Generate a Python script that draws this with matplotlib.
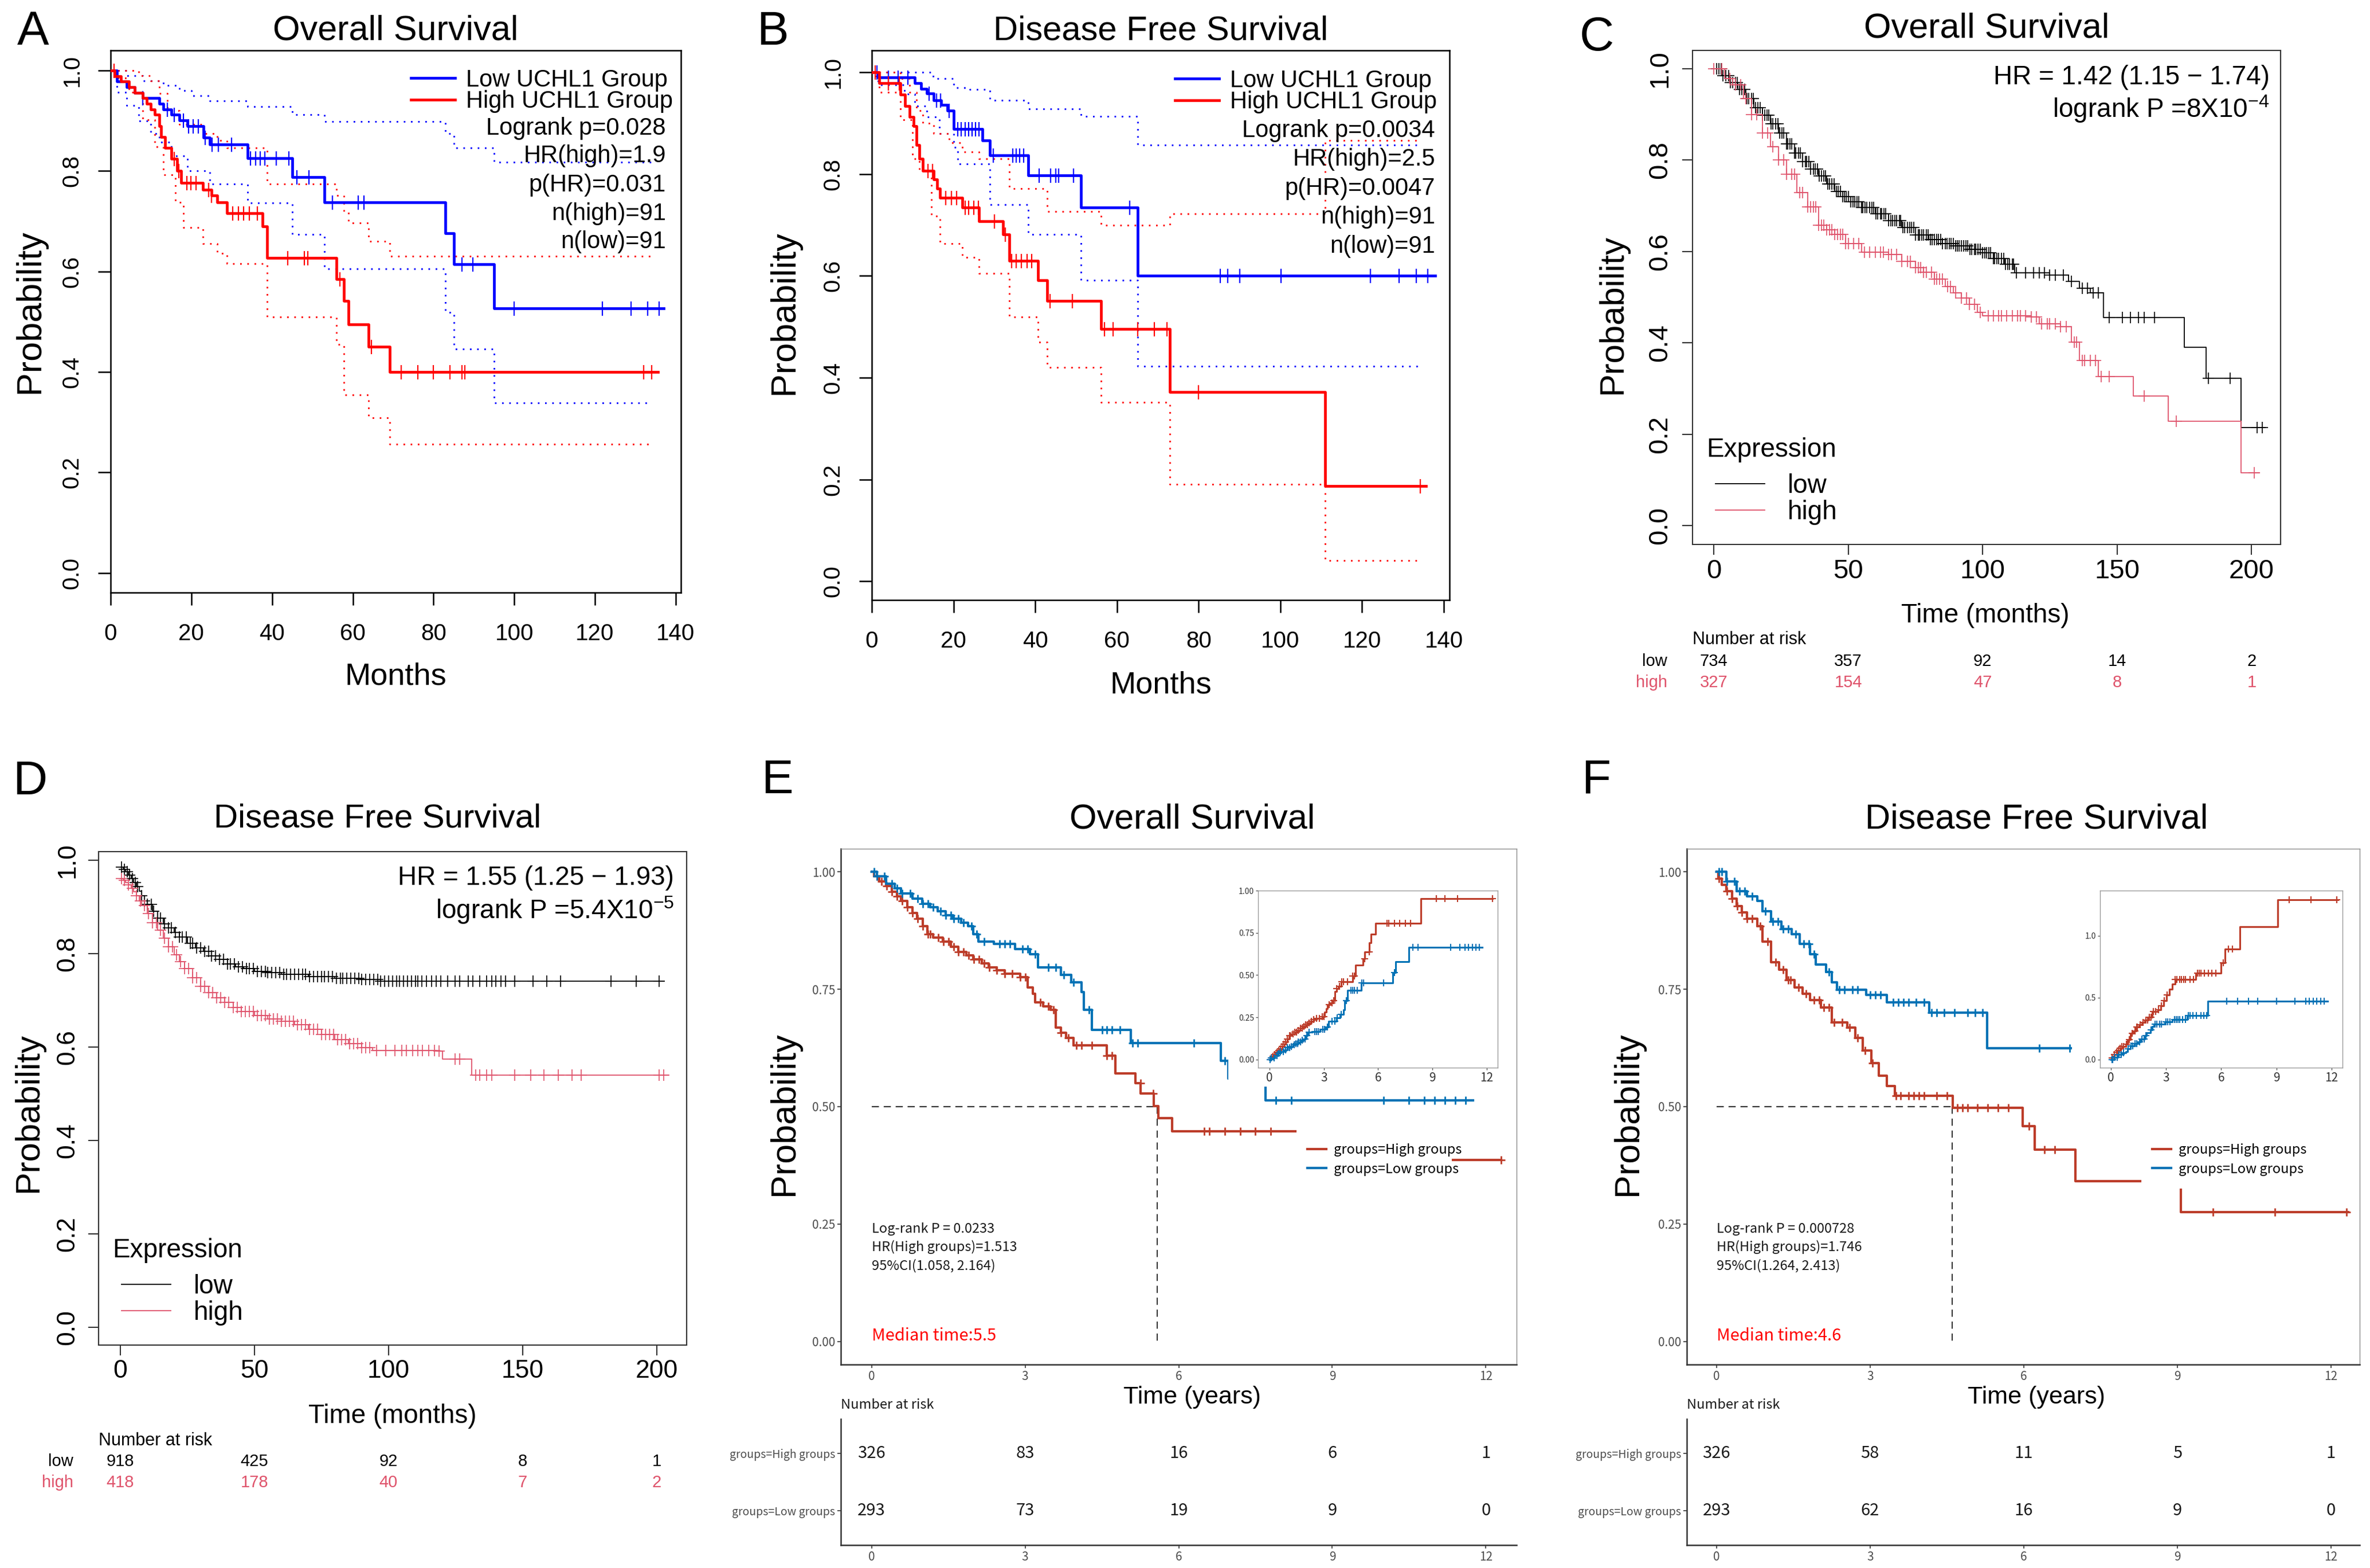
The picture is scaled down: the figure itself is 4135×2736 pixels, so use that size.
import numpy as np
import matplotlib
matplotlib.use('Agg')
import matplotlib.pyplot as plt
from matplotlib.patches import Rectangle
from matplotlib.transforms import blended_transform_factory

plt.rcParams['font.family'] = ['Liberation Sans', 'DejaVu Sans']
plt.rcParams['mathtext.fontset'] = 'custom'
plt.rcParams['mathtext.rm'] = 'Liberation Sans'
CJK = ['Noto Sans CJK SC', 'DejaVu Sans']

# ---------------- data: panel A (GEPIA, overall survival) ----------------
a_low_t = [0, 1.5, 4, 6, 8, 12, 13, 15, 17, 19, 23, 24.5, 34, 45, 53, 83, 85, 95]
a_low_s = [1.0, 0.978, 0.967, 0.956, 0.945, 0.934, 0.923, 0.912, 0.901, 0.890, 0.867, 0.853,
           0.826, 0.788, 0.738, 0.676, 0.614, 0.527]
a_low_end = 137
a_low_cens = [8.0, 14, 15.7, 18.1, 19.3, 20.5, 21.7, 23.4, 25.2, 26.7, 29.9, 34.7, 35.9, 37, 38.2,
              41, 44.1, 46.2, 49.2, 55, 61.3, 62.7, 87.1, 89.7, 100, 121.9, 129, 133.1, 135.9]
a_low_up_t = [0, 4, 8, 13, 17, 20, 24.5, 34, 45, 53, 83, 85, 95]
a_low_up_s = [1.0, 0.99, 0.98, 0.97, 0.96, 0.95, 0.94, 0.928, 0.912, 0.898, 0.875, 0.846, 0.818]
a_low_lo_t = [0, 1.5, 4, 7, 10, 12, 15, 19, 24.5, 34, 45, 53, 83, 85, 95]
a_low_lo_s = [1.0, 0.957, 0.93, 0.90, 0.875, 0.857, 0.83, 0.80, 0.774, 0.737, 0.674, 0.606,
              0.519, 0.446, 0.339]
a_high_t = [0, 1, 2.5, 4.5, 6, 8, 9, 10, 11, 12, 12.5, 13.5, 15, 16.5, 17.5, 22.8, 25, 26.4, 28.8,
            37.6, 38.8, 56, 57.8, 59, 63.9, 69.2]
a_high_s = [1.0, 0.989, 0.978, 0.967, 0.956, 0.945, 0.934, 0.923, 0.912, 0.890, 0.868, 0.846, 0.824,
            0.801, 0.776, 0.763, 0.751, 0.738, 0.716, 0.690, 0.627, 0.585, 0.541, 0.495, 0.450, 0.400]
a_high_end = 135.6
a_high_cens = [0.9, 15.7, 16.9, 18.9, 19.9, 21.1, 24.3, 25, 30.3, 31.7, 32.9, 34.3, 36.4, 43.9, 48,
               48.9, 56.8, 64.6, 72, 76.1, 80, 84, 87.1, 87.7, 132.1, 134.1]
a_high_up_t = [0, 7, 10, 12, 14, 17, 22.8, 26.4, 28.8, 38.8, 56, 57.8, 59, 63.9, 69.2]
a_high_up_s = [1.0, 0.99, 0.98, 0.955, 0.92, 0.893, 0.875, 0.861, 0.846, 0.774, 0.751, 0.72, 0.697,
               0.66, 0.63]
a_high_lo_t = [0, 1, 4.5, 8, 11, 13, 16, 18, 22.8, 26.4, 28.8, 38.8, 56, 57.8, 63.9, 69.2]
a_high_lo_s = [1.0, 0.985, 0.957, 0.902, 0.848, 0.793, 0.738, 0.688, 0.656, 0.636, 0.616, 0.51,
               0.455, 0.354, 0.309, 0.256]
a_ci_end = 134
a_stats = ['Logrank p=0.028', 'HR(high)=1.9', 'p(HR)=0.031', 'n(high)=91', 'n(low)=91']

# ---------------- data: panel B (GEPIA, disease free survival) ----------------
b_low_t = [0, 1.5, 10.5, 12, 13.4, 15.2, 17, 18.5, 20.1, 27.1, 28.9, 38.3, 51.2, 65.1]
b_low_s = [1.0, 0.99, 0.979, 0.967, 0.958, 0.945, 0.936, 0.925, 0.889, 0.866, 0.837, 0.797,
           0.734, 0.600]
b_low_end = 137.9
b_low_cens = [1.2, 4.1, 6.4, 8.8, 14, 15.8, 16.9, 19, 21, 21.9, 22.8, 23.7, 24.5, 25.4, 26.3, 29.8,
              34.5, 35.4, 36.2, 37.2, 40.9, 43.8, 45, 45.8, 49.4, 63.1, 85.3, 87.1, 90, 100.2,
              122.1, 129.1, 133.2, 136.1]
b_low_up_t = [0, 15, 20.1, 24, 28.9, 38.3, 51.2, 65.1]
b_low_up_s = [1.0, 0.988, 0.97, 0.966, 0.945, 0.928, 0.914, 0.857]
b_low_lo_t = [0, 1.5, 8, 10.5, 13.4, 16.5, 20.1, 21, 28.9, 38.3, 51.2, 65.1]
b_low_lo_s = [1.0, 0.975, 0.957, 0.934, 0.912, 0.88, 0.853, 0.82, 0.74, 0.681, 0.591, 0.422]
b_high_t = [0, 1.8, 7, 8.2, 9.3, 10.2, 10.9, 11.7, 12.5, 15.2, 16, 16.7, 22.2, 26.3, 32.1, 33.7,
            40.7, 42.9, 56.1, 73, 111]
b_high_s = [1.0, 0.979, 0.956, 0.934, 0.912, 0.894, 0.857, 0.83, 0.806, 0.79, 0.772, 0.754, 0.734,
            0.707, 0.681, 0.63, 0.591, 0.551, 0.496, 0.372, 0.187]
b_high_end = 135.6
b_high_cens = [0.8, 4.1, 6.7, 13.8, 14.8, 18.1, 19.5, 20.7, 22.8, 23.7, 24.9, 26.1, 30, 32.7, 34.2,
               35.4, 36.6, 38, 39.1, 43.6, 49.1, 56.9, 59, 65.1, 69.2, 72.2, 80, 134.2]
b_high_up_t = [0, 7, 9.3, 10.9, 12.5, 15.2, 19, 22.2, 26.3, 33.7, 42.9, 56.1, 73, 111]
b_high_up_s = [1.0, 0.988, 0.961, 0.925, 0.9, 0.88, 0.862, 0.844, 0.83, 0.772, 0.726, 0.70,
               0.722, 0.866]
b_high_lo_t = [0, 1, 1.8, 7, 10, 11.7, 14.6, 16.7, 22.2, 26.3, 33.7, 40.7, 42.9, 56.1, 73, 111]
b_high_lo_s = [1.0, 0.99, 0.961, 0.907, 0.83, 0.808, 0.717, 0.663, 0.636, 0.605, 0.519, 0.47,
               0.42, 0.352, 0.191, 0.041]
b_ci_end = 134
b_stats = ['Logrank p=0.0034', 'HR(high)=2.5', 'p(HR)=0.0047', 'n(high)=91', 'n(low)=91']

# ---------------- data: panel C (KM plotter, overall survival) ----------------
c_low_t = [0, 3, 6, 9, 12, 15, 18, 21, 24, 27, 30, 33, 36, 39, 42, 45, 48, 51, 55, 60, 65, 70, 75,
           80, 85, 90, 95, 100, 104, 108, 112, 125, 132, 136, 140, 145, 175, 183, 196]
c_low_s = [1.0, 0.985, 0.97, 0.955, 0.935, 0.915, 0.898, 0.879, 0.86, 0.835, 0.815, 0.797, 0.78,
           0.765, 0.748, 0.732, 0.72, 0.709, 0.697, 0.682, 0.668, 0.652, 0.636, 0.626, 0.617, 0.612,
           0.605, 0.597, 0.585, 0.572, 0.553, 0.548, 0.535, 0.52, 0.51, 0.455, 0.39, 0.323, 0.215]
c_low_end = 205
c_low_cens = [1, 2, 2.8, 3.5, 4.5, 5.5, 6.2, 7, 8, 8.8, 9.5, 10.5, 11.5, 12.3, 13, 14, 14.8, 15.5,
              16.5, 17.3, 18, 19, 19.8, 20.5, 21.3, 22, 23, 23.8, 24.5, 25.3, 26, 27, 27.5, 28.4,
              29, 30, 30.5, 31.5, 32.2, 33, 34, 34.5, 35.3, 36, 37, 37.8, 38.5, 39.3, 40, 41, 41.5,
              42.3, 43, 44, 44.8, 45.5, 46.3, 47, 48, 48.5, 49.3, 50, 51, 51.7, 52.5, 53.2, 54, 55,
              55.5, 56.3, 57, 58, 58.8, 59.5, 60.3, 61, 62, 62.5, 63.3, 64, 65, 65.8, 66.5, 67.3, 68,
              69, 69.5, 70.3, 71, 72, 72.8, 73.5, 74.3, 75, 76, 76.5, 77.3, 78, 79, 79.8, 80.5,
              81.3, 82, 83, 83.5, 84.3, 85, 86, 86.8, 87.5, 88.3, 89, 90, 90.5, 91.3, 92, 93, 93.8,
              94.5, 95.3, 96, 97, 97.5, 98.3, 99, 100, 100.8, 101.5, 102.3, 103, 104, 104.5, 105.3,
              106, 107, 107.8, 108.5, 109.3, 110, 111, 111.5, 112.5, 116, 119, 121, 123, 125, 127,
              130, 133, 137, 139, 141, 143, 147, 152, 155, 158, 160, 164, 184, 192, 202, 204]
c_high_t = [0, 4, 7, 11, 14, 18, 21, 24, 27, 31, 35, 39, 42, 45, 49, 55, 65, 70, 75, 78, 82, 86, 89,
            92, 95, 98, 100, 118, 121, 129, 133, 136, 143, 156, 169, 196]
c_high_s = [1.0, 0.978, 0.965, 0.935, 0.9, 0.86, 0.829, 0.8, 0.769, 0.729, 0.698, 0.658, 0.648,
            0.638, 0.618, 0.598, 0.593, 0.578, 0.565, 0.555, 0.54, 0.523, 0.51, 0.498, 0.485, 0.467,
            0.459, 0.457, 0.442, 0.435, 0.402, 0.362, 0.327, 0.284, 0.228, 0.116]
c_high_end = 203
c_high_cens = [0, 3, 6, 8, 10, 12, 14, 16, 18, 20, 22, 24, 26, 27, 29, 30, 32, 33, 35, 36, 37, 38,
               39, 40, 41, 42, 43, 44, 45, 46, 47, 48, 49, 50, 52, 54, 56, 58, 60, 62, 63, 65, 66,
               68, 70, 72, 73, 75, 76, 77, 78, 79, 81, 82, 83, 84, 85, 87, 88, 90, 92, 94, 95, 97,
               99, 102, 104, 106, 107, 109, 111, 113, 114, 116, 118, 120, 122, 124, 125, 127, 129,
               131, 134, 135, 137, 138, 140, 142, 144, 147, 160, 172, 201]
c_risk_t = [0, 50, 100, 150, 200]
c_risk_low = [734, 357, 92, 14, 2]
c_risk_high = [327, 154, 47, 8, 1]

# ---------------- data: panel D (KM plotter, disease free survival) ----------------
d_low_t = [0, 1, 2, 3, 4, 5, 6, 7, 8, 9, 10, 12, 14, 16, 18, 20, 22, 25, 28, 31, 34, 37, 40, 43,
           46, 50, 55, 60, 70, 80, 90, 97]
d_low_s = [0.985, 0.98, 0.975, 0.968, 0.96, 0.952, 0.943, 0.933, 0.923, 0.913, 0.905, 0.89, 0.876,
           0.864, 0.855, 0.845, 0.835, 0.822, 0.812, 0.804, 0.795, 0.788, 0.778, 0.772, 0.768, 0.762,
           0.759, 0.755, 0.751, 0.747, 0.744, 0.741]
d_low_end = 202.6
d_low_cens = [0.5, 1.5, 2.5, 3.5, 4.5, 5.5, 6.5, 8, 9, 10, 11.5, 12.5, 14, 15, 16.5, 18, 19, 20.5,
              22, 23, 24.5, 26, 27, 28.5, 30, 31.5, 33, 34, 35.5, 37, 38.5, 40, 41, 42.5, 44, 45.5,
              47, 48, 49.5, 51, 52.5, 54, 55, 56.5, 58, 59.5, 61, 62, 63.5, 65, 66.5, 68, 69, 70.5,
              72, 73.5, 75, 76, 77.5, 79, 80.5, 82, 83, 84.5, 86, 87.5, 89, 90, 91.5, 93, 94.5, 96,
              97, 98.5, 100, 101.5, 103, 104, 105.5, 107, 108.5, 110, 111, 112.5, 114, 116, 117.8,
              119.5, 122, 124.7, 126.4, 129.8, 131.5, 134, 136.6, 138.4, 140, 141.8, 143.5, 147,
              153.8, 158.9, 164, 182.9, 192.3, 200.9]
d_high_t = [0, 1, 2, 3, 4, 5, 6, 7, 8, 10, 12, 14, 16, 18, 20, 22, 24, 27, 30, 33, 36, 39, 42, 45,
            50, 55, 60, 65, 70, 75, 80, 85, 90, 94, 118, 120, 131]
d_high_s = [0.96, 0.957, 0.952, 0.947, 0.94, 0.932, 0.923, 0.913, 0.903, 0.885, 0.866, 0.85, 0.833,
            0.815, 0.797, 0.782, 0.768, 0.748, 0.73, 0.716, 0.705, 0.695, 0.685, 0.676, 0.667, 0.66,
            0.655, 0.648, 0.638, 0.627, 0.616, 0.607, 0.598, 0.593, 0.591, 0.574, 0.54]
d_high_end = 204.3
d_high_cens = [0.5, 1.5, 3, 4.5, 6, 7.5, 9, 10.5, 12, 13.5, 15, 16.5, 18, 19.5, 21, 22.5, 24, 25.5,
               27, 28.5, 30, 31.5, 33, 34.5, 36, 37.5, 39, 40.5, 42, 43.5, 45, 46.5, 48, 49.5, 51,
               52.5, 54, 55.5, 57, 58.5, 60, 61.5, 63, 64.5, 66, 67.5, 69, 70.5, 72, 73.5, 75, 76.5,
               78, 79.5, 81, 82.5, 84, 85.5, 87, 88.5, 90, 91.5, 93, 95.5, 99, 102.4, 105, 106.7,
               109, 111, 112.7, 115, 117, 118.7, 124.7, 126.4, 132.4, 134, 136.6, 138.4, 147, 152.9,
               158, 163.2, 168.3, 171.7, 200.9, 202.6]
d_risk_t = [0, 50, 100, 150, 200]
d_risk_low = [918, 425, 92, 8, 1]
d_risk_high = [418, 178, 40, 7, 2]

# ---------------- data: panel E (overall survival, years) ----------------
e_high_t = [0, 0.05, 0.15, 0.28, 0.4, 0.5, 0.58, 0.7, 0.8, 0.89, 1.0, 1.09, 1.2, 1.39, 1.55, 1.69,
            1.85, 1.99, 2.15, 2.29, 2.45, 2.6, 2.9, 3.05, 3.15, 3.2, 3.35, 3.5, 3.6, 3.7, 3.8, 3.95,
            4.6, 4.76, 5.16, 5.26, 5.51, 5.6, 5.87, 8.35]
e_high_s = [1.0, 0.99, 0.98, 0.97, 0.958, 0.948, 0.938, 0.925, 0.912, 0.9, 0.884, 0.867, 0.86,
            0.851, 0.84, 0.83, 0.822, 0.814, 0.805, 0.797, 0.79, 0.783, 0.776, 0.754, 0.74, 0.722,
            0.714, 0.706, 0.668, 0.657, 0.647, 0.63, 0.609, 0.571, 0.55, 0.528, 0.501, 0.476, 0.447,
            0.386]
e_high_end = 12.3
e_high_cens = [0.1, 0.2, 0.3, 0.4, 0.5, 0.6, 0.7, 0.8, 0.9, 1.0, 1.1, 1.15, 1.3, 1.4, 1.5, 1.6,
               1.7, 1.8, 1.9, 2.0, 2.1, 2.2, 2.3, 2.45, 2.6, 2.75, 2.9, 3.0, 3.3, 3.45, 3.55, 3.7,
               3.85, 4.0, 4.1, 4.3, 4.6, 4.7, 5.25, 5.5, 6.5, 6.6, 6.9, 7.2, 7.5, 7.8, 9.2, 9.7, 10.4,
               12.3]
e_low_t = [0, 0.1, 0.28, 0.45, 0.58, 0.8, 0.99, 1.15, 1.29, 1.45, 1.59, 1.75, 1.89, 1.99, 2.09,
           2.39, 2.8, 3.1, 3.25, 3.7, 3.9, 4.1, 4.15, 4.3, 5.06, 6.82, 6.97, 7.7]
e_low_s = [1.0, 0.99, 0.975, 0.965, 0.954, 0.943, 0.932, 0.924, 0.916, 0.908, 0.9, 0.892, 0.884,
           0.867, 0.851, 0.846, 0.835, 0.824, 0.797, 0.781, 0.765, 0.744, 0.706, 0.663, 0.636, 0.598,
           0.56, 0.514]
e_low_end = 11.75
e_low_cens = [0.05, 0.1, 0.25, 0.4, 0.5, 0.6, 0.75, 0.9, 1.0, 1.1, 1.2, 1.35, 1.45, 1.55, 1.6, 1.7,
              1.8, 1.95, 2.05, 2.2, 2.5, 2.6, 2.7, 2.95, 3.05, 3.2, 3.45, 3.6, 3.75, 3.95, 4.25,
              4.5, 4.6, 4.7, 4.85, 5.1, 5.2, 6.3, 6.9, 7.9, 8.2, 10.0, 10.5, 10.8, 11.0, 11.2, 11.4,
              11.6]
e_median = 5.58
e_stats = ['Log-rank P = 0.0233', 'HR(High groups)=1.513', '95%CI(1.058, 2.164)']
e_median_label = 'Median time:5.5'
e_risk_t = [0, 3, 6, 9, 12]
e_risk_high = [326, 83, 16, 6, 1]
e_risk_low = [293, 73, 19, 9, 0]

# ---------------- data: panel F (disease free survival, years) ----------------
f_high_t = [0, 0.03, 0.1, 0.19, 0.3, 0.39, 0.5, 0.6, 0.8, 0.9, 1.06, 1.22, 1.37, 1.52, 1.68, 1.83,
            2.04, 2.25, 2.55, 2.71, 2.86, 3.02, 3.17, 3.33, 3.48, 4.61, 5.98, 6.21, 7.01, 9.07]
f_high_s = [1.0, 0.986, 0.972, 0.959, 0.943, 0.927, 0.913, 0.9, 0.884, 0.851, 0.808, 0.792, 0.77,
            0.754, 0.74, 0.727, 0.711, 0.679, 0.668, 0.647, 0.62, 0.593, 0.566, 0.544, 0.523, 0.498,
            0.458, 0.409, 0.342, 0.275]
f_high_end = 12.34
f_high_cens = [0.05, 0.2, 0.3, 0.4, 0.5, 0.6, 0.7, 0.85, 1.0, 1.15, 1.3, 1.4, 1.45, 1.6, 1.75, 1.9,
               2.0, 2.1, 2.2, 2.3, 2.45, 2.6, 2.75, 2.9, 3.05, 3.5, 3.6, 3.75, 3.85, 3.95, 4.05, 4.3,
               4.5, 4.7, 4.8, 4.9, 5.1, 5.3, 5.5, 5.7, 6.1, 6.4, 6.6, 9.7, 10.9, 12.3]
f_low_t = [0, 0.19, 0.39, 0.6, 0.8, 0.9, 1.06, 1.27, 1.47, 1.63, 1.83, 1.94, 2.14, 2.25, 2.35, 2.92,
           3.33, 4.15, 5.28]
f_low_s = [1.0, 0.98, 0.959, 0.948, 0.938, 0.916, 0.894, 0.878, 0.867, 0.846, 0.824, 0.803, 0.787,
           0.765, 0.749, 0.738, 0.722, 0.70, 0.625]
f_low_end = 11.8
f_low_cens = [0.05, 0.1, 0.2, 0.35, 0.45, 0.55, 0.7, 0.95, 1.1, 1.2, 1.3, 1.4, 1.55, 1.7, 1.8, 1.9,
              2.2, 2.4, 2.5, 2.65, 2.75, 3.0, 3.1, 3.2, 3.45, 3.55, 3.65, 3.75, 3.9, 4.05, 4.2, 4.3,
              4.45, 4.65, 4.9, 5.05, 5.2, 6.3, 6.9, 7.5, 8.0, 9.0, 10.0, 10.6, 10.8, 11.0, 11.2,
              11.4, 11.6]
f_median = 4.6
f_stats = ['Log-rank P = 0.000728', 'HR(High groups)=1.746', '95%CI(1.264, 2.413)']
f_median_label = 'Median time:4.6'
f_risk_t = [0, 3, 6, 9, 12]
f_risk_high = [326, 58, 11, 5, 1]
f_risk_low = [293, 62, 16, 9, 0]

# ---------------- colours ----------------
R_BLUE, R_RED = '#0000FF', '#FF0000'
KM_BLACK, KM_PINK = '#000000', '#DF536B'
GG_RED, GG_BLUE = '#BC3C29', '#0072B5'
DOTS = (0, (1, 3.5))

W, H = 4135, 2736
fig = plt.figure(figsize=(W / 100, H / 100), dpi=100)


def px_axes(l, t, r, b):
    return fig.add_axes([l / W, 1 - b / H, (r - l) / W, (b - t) / H])


def ftext(x, y, s, **kw):
    kw.setdefault('ha', 'center')
    kw.setdefault('va', 'center')
    return fig.text(x / W, 1 - y / H, s, **kw)


def surv_at(t, times, surv):
    idx = np.searchsorted(np.asarray(times), np.asarray(t), side='right') - 1
    return np.asarray(surv)[idx]


def km(ax, t, s, end, cens, color, lw, marker, ms, mew, label=None, ls='-', z=3):
    line, = ax.step(list(t) + [end], list(s) + [s[-1]], where='post', color=color, lw=lw,
                    ls=ls, label=label, zorder=z)
    if cens is not None:
        ax.plot(cens, surv_at(cens, t, s), ls='none', marker=marker, ms=ms, mew=mew,
                color=color, zorder=z)
    return line


def r_style(ax, xlim, ylim, xticks, yticks, fs, tlen, xpad, ypad, lw=1.8, color='black'):
    ax.set_xlim(xlim)
    ax.set_ylim(ylim)
    ax.set_xticks(xticks)
    ax.set_xticklabels([str(v) for v in xticks])
    ax.set_yticks(yticks)
    ax.set_yticklabels([f'{v:.1f}' for v in yticks], rotation=90, va='center')
    ax.tick_params(direction='out', length=tlen, width=lw, labelsize=fs, color=color)
    ax.tick_params(axis='x', pad=xpad)
    ax.tick_params(axis='y', pad=ypad)
    for sp in ax.spines.values():
        sp.set_linewidth(lw)
        sp.set_edgecolor(color)


# ======================= Panel A =======================
axA = px_axes(193, 88, 1188, 1034)
km(axA, a_low_up_t, a_low_up_s, a_ci_end, None, R_BLUE, 2.0, None, 0, 0, ls=DOTS)
km(axA, a_low_lo_t, a_low_lo_s, a_ci_end, None, R_BLUE, 2.0, None, 0, 0, ls=DOTS)
km(axA, a_high_up_t, a_high_up_s, a_ci_end, None, R_RED, 2.0, None, 0, 0, ls=DOTS)
km(axA, a_high_lo_t, a_high_lo_s, a_ci_end, None, R_RED, 2.0, None, 0, 0, ls=DOTS)
la = km(axA, a_low_t, a_low_s, a_low_end, a_low_cens, R_BLUE, 3.4, '|', 18, 1.6, 'Low UCHL1 Group')
ha = km(axA, a_high_t, a_high_s, a_high_end, a_high_cens, R_RED, 3.4, '|', 18, 1.6, 'High UCHL1 Group')
r_style(axA, (0, 141.3), (-0.039, 1.04), [0, 20, 40, 60, 80, 100, 120, 140],
        [0.0, 0.2, 0.4, 0.6, 0.8, 1.0], 29, 16, 22, 19)
axA.legend(handles=[la, ha], loc='upper left', bbox_to_anchor=(717 / W, 1 - 120 / H),
           bbox_transform=fig.transFigure, frameon=False, fontsize=30, handlelength=1.85,
           handletextpad=0.45, labelspacing=-0.07, borderpad=0, borderaxespad=0)
for i, s in enumerate(a_stats):
    ftext(1162, [224, 272, 323, 373, 422][i], s, ha='right', fontsize=30)
ftext(690, 54, 'Overall Survival', fontsize=44)
ftext(690, 1180, 'Months', fontsize=39)
ftext(52, 543, 'Probability', fontsize=44, rotation=90)
ftext(58, 56, 'A', fontsize=60)

# ======================= Panel B =======================
axB = px_axes(1521, 88, 2529, 1047)
km(axB, b_low_up_t, b_low_up_s, b_ci_end, None, R_BLUE, 2.0, None, 0, 0, ls=DOTS)
km(axB, b_low_lo_t, b_low_lo_s, b_ci_end, None, R_BLUE, 2.0, None, 0, 0, ls=DOTS)
km(axB, b_high_up_t, b_high_up_s, b_ci_end, None, R_RED, 2.0, None, 0, 0, ls=DOTS)
km(axB, b_high_lo_t, b_high_lo_s, b_ci_end, None, R_RED, 2.0, None, 0, 0, ls=DOTS)
lb = km(axB, b_low_t, b_low_s, b_low_end, b_low_cens, R_BLUE, 3.4, '|', 18, 1.6, 'Low UCHL1 Group')
hb = km(axB, b_high_t, b_high_s, b_high_end, b_high_cens, R_RED, 3.4, '|', 18, 1.6, 'High UCHL1 Group')
r_style(axB, (0, 141.4), (-0.037, 1.043), [0, 20, 40, 60, 80, 100, 120, 140],
        [0.0, 0.2, 0.4, 0.6, 0.8, 1.0], 29, 16, 22, 19)
axB.legend(handles=[lb, hb], loc='upper left', bbox_to_anchor=(2050 / W, 1 - 121 / H),
           bbox_transform=fig.transFigure, frameon=False, fontsize=30, handlelength=1.85,
           handletextpad=0.45, labelspacing=-0.07, borderpad=0, borderaxespad=0)
for i, s in enumerate(b_stats):
    ftext(2504, [228, 278, 329, 379, 430][i], s, ha='right', fontsize=30)
ftext(2025, 54, 'Disease Free Survival', fontsize=43)
ftext(2025, 1195, 'Months', fontsize=39)
ftext(1369, 545, 'Probability', fontsize=44, rotation=90)
ftext(1348, 56, 'B', fontsize=60)


# ======================= Panels C and D (KM plotter style) =======================
def km_plotter(box, xlim, ylim, low, high, hr, lp, risk, pos):
    ax = px_axes(*box)
    lt, ls_, le, lc = low
    ht, hs, he, hc = high
    l1 = km(ax, lt, ls_, le, lc, KM_BLACK, 1.3, '+', 14, 1.2, 'low')
    h1 = km(ax, ht, hs, he, hc, KM_PINK, 1.3, '+', 14, 1.2, 'high')
    r_style(ax, xlim, ylim, [0, 50, 100, 150, 200], [0.0, 0.2, 0.4, 0.6, 0.8, 1.0],
            pos['tick_fs'], 13, pos['xpad'], pos['ypad'], lw=1.5, color='#333333')
    ftext(pos['hr_x'], pos['hr_y'][0], hr, ha='right', fontsize=33)
    ftext(pos['hr_x'], pos['hr_y'][1], lp, ha='right', fontsize=33)
    ftext(pos['exp_x'], pos['exp_y'], 'Expression', ha='left', fontsize=33)
    ax.legend(handles=[l1, h1], loc='upper left', bbox_to_anchor=(pos['leg_x'] / W, 1 - pos['leg_y'] / H),
              bbox_transform=fig.transFigure, frameon=False, fontsize=33, handlelength=1.87,
              handletextpad=0.87, labelspacing=0.05, borderpad=0, borderaxespad=0)
    ftext(box[0], pos['nar_y'], 'Number at risk', ha='left', fontsize=22)
    tr = blended_transform_factory(ax.transData, fig.transFigure)
    rt, rl, rh = risk
    ftext(pos['lab_x'], pos['row_y'][0], 'low', ha='right', fontsize=21)
    ftext(pos['lab_x'], pos['row_y'][1], 'high', ha='right', fontsize=21, color=KM_PINK)
    for x, n1, n2 in zip(rt, rl, rh):
        ax.text(x, 1 - pos['row_y'][0] / H, str(n1), transform=tr, ha='center', va='center', fontsize=21)
        ax.text(x, 1 - pos['row_y'][1] / H, str(n2), transform=tr, ha='center', va='center',
                fontsize=21, color=KM_PINK)
    return ax


km_plotter((2953, 88, 3979, 950), (-7.9, 210.8), (-0.041, 1.04),
           (c_low_t, c_low_s, c_low_end, c_low_cens), (c_high_t, c_high_s, c_high_end, c_high_cens),
           'HR = 1.42 (1.15 \u2212 1.74)', r'logrank P =8X10$^{\mathregular{-4}}$',
           (c_risk_t, c_risk_low, c_risk_high),
           dict(tick_fs=34, xpad=5, ypad=12, hr_x=3960, hr_y=(135, 190), exp_x=2977, exp_y=785,
                leg_x=2993, leg_y=826, nar_y=1116, lab_x=2909, row_y=(1154, 1191)))
ftext(3466, 50, 'Overall Survival', fontsize=44)
ftext(3464, 1074, 'Time (months)', fontsize=33)
ftext(2814, 549, 'Probability', fontsize=43, rotation=90)
ftext(2786, 66, 'C', fontsize=60)

km_plotter((172, 1486, 1198, 2347), (-8.1, 211.1), (-0.038, 1.018),
           (d_low_t, d_low_s, d_low_end, d_low_cens), (d_high_t, d_high_s, d_high_end, d_high_cens),
           'HR = 1.55 (1.25 \u2212 1.93)', r'logrank P =5.4X10$^{\mathregular{-5}}$',
           (d_risk_t, d_risk_low, d_risk_high),
           dict(tick_fs=32, xpad=5, ypad=11, hr_x=1176, hr_y=(1532, 1588), exp_x=196, exp_y=2182,
                leg_x=212, leg_y=2223, nar_y=2514, lab_x=128, row_y=(2550, 2587)))
ftext(659, 1429, 'Disease Free Survival', fontsize=42)
ftext(685, 2471, 'Time (months)', fontsize=33)
ftext(50, 1942, 'Probability', fontsize=43, rotation=90)
ftext(52, 1364, 'D', fontsize=60)


# ======================= Panels E and F (survminer style) =======================
def gg_ticks(ax, xticks, yticks, ylabels, fs):
    ax.set_xticks(xticks)
    ax.set_xticklabels([str(v) for v in xticks], fontfamily=CJK)
    ax.set_yticks(yticks)
    ax.set_yticklabels(ylabels, fontfamily=CJK)
    ax.tick_params(length=4, width=1.2, color='#333333', labelcolor='#4D4D4D', labelsize=fs, pad=3)


def surv_panel(main_box, risk_box, inset_box, xlim, inset_x, inset_y, inset_ticks, inset_labels,
               high, low, median, stats, med_label, risk, cover, leg_rect, letter, title, xs):
    ht, hs, he, hc = high
    lt, ls_, le, lc = low
    ax = px_axes(*main_box)
    hl = km(ax, ht, hs, he, hc, GG_RED, 3.0, '+', 10, 2.0, 'groups=High groups')
    ll = km(ax, lt, ls_, le, lc, GG_BLUE, 3.0, '+', 10, 2.0, 'groups=Low groups')
    ax.plot([0, median], [0.5, 0.5], ls=(0, (6, 4)), color='#333333', lw=1.5, zorder=2)
    ax.plot([median, median], [0.5, 0.0], ls=(0, (6, 4)), color='#333333', lw=1.5, zorder=2)
    ax.set_xlim(xlim)
    ax.set_ylim(-0.049, 1.049)
    gg_ticks(ax, [0, 3, 6, 9, 12], [0, 0.25, 0.5, 0.75, 1.0], ['0.00', '0.25', '0.50', '0.75', '1.00'], 15)
    for k in ['left', 'bottom']:
        ax.spines[k].set_linewidth(1.8)
        ax.spines[k].set_edgecolor('#333333')
    for k in ['top', 'right']:
        ax.spines[k].set_linewidth(1.0)
        ax.spines[k].set_edgecolor('#888888')
    for y, s in zip([0.240, 0.201, 0.161], stats):
        ax.text(0, y, s, ha='left', va='center', fontsize=17, fontfamily=CJK, color='#1a1a1a')
    ax.text(0, 0.012, med_label, ha='left', va='center', fontsize=21, fontfamily=CJK, color='#FF0000')
    # white legend box hiding the curves behind it
    x0, x1, y0, y1 = leg_rect
    ax.add_patch(Rectangle((x0, y0), x1 - x0, y1 - y0, facecolor='white', edgecolor='none', zorder=5))
    ax.legend(handles=[hl, ll], loc='center left',
              bbox_to_anchor=((8.51 - xlim[0]) / (xlim[1] - xlim[0]), (0.3875 + 0.049) / 1.098),
              frameon=False, handlelength=1.4, handletextpad=0.55, labelspacing=0.45,
              borderpad=0, borderaxespad=0, prop={'family': CJK, 'size': 17})
    # white area behind the inset
    cl, ct, cr, cb = cover
    fig.patches.append(Rectangle((cl / W, 1 - cb / H), (cr - cl) / W, (cb - ct) / H,
                                 transform=fig.transFigure, facecolor='white', edgecolor='none', zorder=1))
    ia = px_axes(*inset_box)
    ia.set_zorder(3)
    ia.step(list(ht) + [he], list(-np.log(hs)) + [-np.log(hs[-1])], where='post', color=GG_RED, lw=2.2)
    ia.plot(hc, -np.log(surv_at(hc, ht, hs)), ls='none', marker='+', ms=8, mew=1.5, color=GG_RED)
    ia.step(list(lt) + [le], list(-np.log(ls_)) + [-np.log(ls_[-1])], where='post', color=GG_BLUE, lw=2.2)
    ia.plot(lc, -np.log(surv_at(lc, lt, ls_)), ls='none', marker='+', ms=8, mew=1.5, color=GG_BLUE)
    ia.set_xlim(inset_x)
    ia.set_ylim(inset_y)
    ia.set_xticks([0, 3, 6, 9, 12])
    ia.set_xticklabels(['0', '3', '6', '9', '12'], fontfamily=CJK)
    ia.set_yticks(inset_ticks)
    ia.set_yticklabels(inset_labels, fontfamily=CJK)
    ia.tick_params(axis='x', length=3, width=1, color='#555555', labelcolor='#333333', labelsize=15, pad=2)
    ia.tick_params(axis='y', length=3, width=1, color='#555555', labelcolor='#333333', labelsize=10, pad=2)
    for sp in ia.spines.values():
        sp.set_linewidth(1.0)
        sp.set_edgecolor('#999999')
    # risk table
    ra = px_axes(*risk_box)
    ra.set_xlim(xlim)
    ra.set_ylim(0, 1)
    rt, rhigh, rlow = risk
    for x, n1, n2 in zip(rt, rhigh, rlow):
        ra.text(x, 0.727, str(n1), ha='center', va='center', fontsize=21, fontfamily=CJK, color='#1a1a1a')
        ra.text(x, 0.273, str(n2), ha='center', va='center', fontsize=21, fontfamily=CJK, color='#1a1a1a')
    gg_ticks(ra, [0, 3, 6, 9, 12], [0.273, 0.727], ['groups=Low groups', 'groups=High groups'], 14)
    ra.tick_params(axis='x', labelsize=15)
    for k in ['top', 'right']:
        ra.spines[k].set_visible(False)
    for k in ['left', 'bottom']:
        ra.spines[k].set_linewidth(1.8)
        ra.spines[k].set_edgecolor('#333333')
    ftext(main_box[0], 2451, 'Number at risk', ha='left', fontsize=17, fontfamily=CJK, color='#1a1a1a')
    ftext(xs['title'], 1430, title, fontsize=44)
    ftext(xs['title'], 2438, 'Time (years)', fontsize=31)
    ftext(xs['ylab'], 1943, 'Probability', fontsize=44, rotation=90)
    ftext(xs['letter'], 1362, letter, fontsize=60)


surv_panel((1467, 1481, 2646, 2381), (1467, 2476, 2646, 2696), (2195, 1554, 2613, 1863),
           (-0.6, 12.6), (-0.63, 12.6), (-0.0475, 0.9975), [0, 0.25, 0.5, 0.75, 1.0],
           ['0.00', '0.25', '0.50', '0.75', '1.00'],
           (e_high_t, e_high_s, e_high_end, e_high_cens), (e_low_t, e_low_s, e_low_end, e_low_cens),
           e_median, e_stats, e_median_label, (e_risk_t, e_risk_high, e_risk_low),
           (2143, 1535, 2643, 1896), (8.3, 11.33, 0.335, 0.457), 'E', 'Overall Survival',
           dict(title=2080, ylab=1369, letter=1356))

surv_panel((2943, 1481, 4117, 2381), (2943, 2476, 4117, 2696), (3664, 1554, 4087, 1863),
           (-0.58, 12.56), (-0.59, 12.6), (-0.065, 1.365), [0, 0.5, 1.0], ['0.0', '0.5', '1.0'],
           (f_high_t, f_high_s, f_high_end, f_high_cens), (f_low_t, f_low_s, f_low_end, f_low_cens),
           f_median, f_stats, f_median_label, (f_risk_t, f_risk_high, f_risk_low),
           (3615, 1535, 4114, 1896), (8.3, 11.33, 0.325, 0.457), 'F', 'Disease Free Survival',
           dict(title=3553, ylab=2840, letter=2785))

fig.savefig('out.png', dpi=100, facecolor='white')
